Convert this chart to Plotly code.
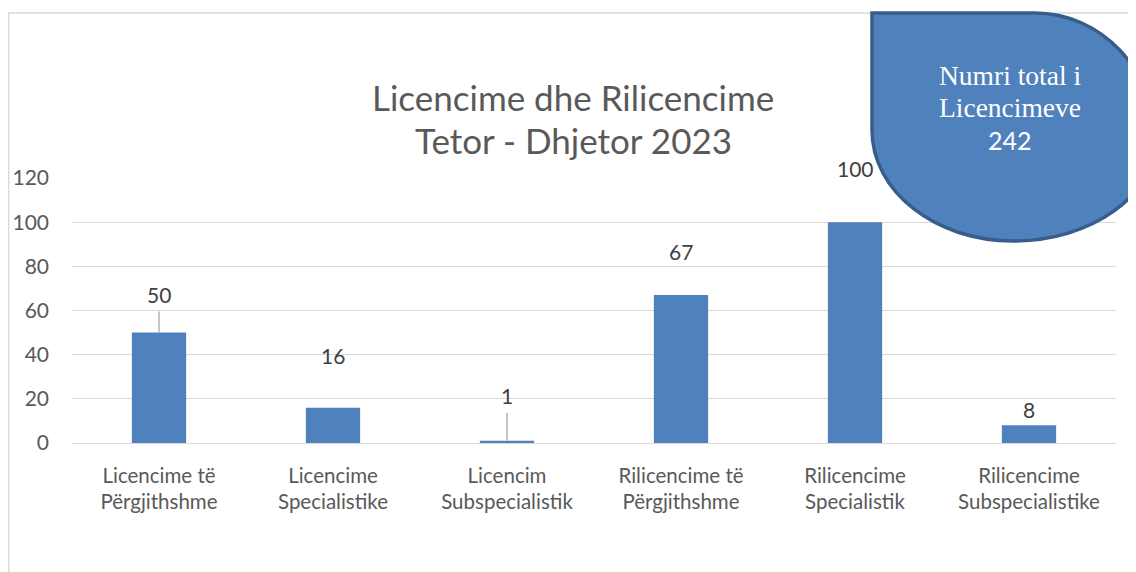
import plotly.graph_objects as go

# ---- data ----
categories = ["Licencime të<br>Përgjithshme", "Licencime<br>Specialistike", "Licencim<br>Subspecialistik",
              "Rilicencime të<br>Përgjithshme", "Rilicencime<br>Specialistik", "Rilicencime<br>Subspecialistike"]
values = [50, 16, 1, 67, 100, 8]
y_ticks = [0, 20, 40, 60, 80, 100, 120]
title_lines = ["Licencime dhe Rilicencime", "Tetor - Dhjetor 2023"]
total_lines = ["Numri total i", "Licencimeve"]
total_value = sum(values)

# ---- styling (label offsets in pixels, leader line lengths in pixels) ----
label_shift_px = [38, 52, 45, 44, 54, 16]
leader_px = [21, 0, 28, 0, 0, 0]

# page offset from default body margin (8px each side)
OX, OY = 8, 8
PW, PH = 1136, 572          # page size
W, H = PW - OX, PH - OY     # figure size
L, R, T, B = 72, 1116, 178, 443   # plot area in page pixels
BAR = "#4F81BD"
TXT = "#595959"
GRID = "#D9D9D9"
SANS = "Lato"


def px(x):
    return (x - L) / (R - L)


def py(y):
    return (B - y) / (B - T)


fig = go.Figure()
fig.add_trace(go.Bar(x=categories, y=values, marker=dict(color=BAR, line=dict(width=0)),
                     hoverinfo="skip"))

annotations = []
shapes = []

# chart border
shapes.append(dict(type="rect", xref="paper", yref="paper", x0=px(8.7), x1=px(1160), y0=py(13), y1=py(600),
                   line=dict(color=GRID, width=1.3), fillcolor="rgba(0,0,0,0)", layer="above"))

# data labels + leader lines
for c, v, s, ld in zip(categories, values, label_shift_px, leader_px):
    annotations.append(dict(x=c, y=v, xref="x", yref="y", text=str(v), showarrow=False, yshift=s,
                            font=dict(family=SANS, size=21, color="#404040")))
    if ld:
        shapes.append(dict(type="line", xref="x", yref="y", x0=c, x1=c, ysizemode="pixel", yanchor=v,
                           y0=0, y1=ld, line=dict(color="#A6A6A6", width=1.3)))

# title
for t, yc in zip(title_lines, [97, 140]):
    annotations.append(dict(x=px(573), y=py(yc), xref="paper", yref="paper", text=t, showarrow=False,
                            xanchor="center", yanchor="middle",
                            font=dict(family=SANS, size=35, color=TXT)))

# teardrop callout
k = 0.5523


def P(x, y):
    return f"{px(x):.5f},{py(y):.5f}"


path = "M " + P(872, 13) + " L " + P(1035, 13)
path += " C " + P(1035 + k * 120, 13) + " " + P(1155, 140 - k * 127) + " " + P(1155, 140)
path += " C " + P(1155, 140 + k * 101) + " " + P(1013 + k * 142, 241) + " " + P(1013, 241)
path += " C " + P(1013 - k * 141, 241) + " " + P(872, 130 + k * 111) + " " + P(872, 130)
path += " Z"
shapes.append(dict(type="path", xref="paper", yref="paper", path=path, fillcolor=BAR,
                   line=dict(color="#385D8A", width=3.5), layer="above"))

for t, yc in zip(total_lines, [75, 107]):
    annotations.append(dict(x=px(1010), y=py(yc), xref="paper", yref="paper", text=t, showarrow=False,
                            xanchor="center", yanchor="middle",
                            font=dict(family="Liberation Serif", size=27.5, color="white")))
annotations.append(dict(x=px(1010), y=py(140), xref="paper", yref="paper", text=str(total_value),
                        showarrow=False, xanchor="center", yanchor="middle",
                        font=dict(family=SANS, size=25, color="white")))

fig.update_layout(
    width=W, height=H,
    margin=dict(l=L - OX, r=W - (R - OX), t=T - OY, b=H - (B - OY), pad=0, autoexpand=False),
    paper_bgcolor="white", plot_bgcolor="white",
    bargap=0.688, showlegend=False,
    annotations=annotations, shapes=shapes,
    xaxis=dict(showline=True, linecolor=GRID, linewidth=1.3, showgrid=False, ticks="", automargin=False,
               tickfont=dict(family=SANS, size=20.5, color=TXT), ticklabelstandoff=14, fixedrange=True),
    yaxis=dict(range=[0, 120], tickvals=y_ticks, showgrid=True, gridcolor=GRID, gridwidth=1.3,
               zeroline=False, showline=False, ticks="", automargin=False,
               tickfont=dict(family=SANS, size=21, color=TXT), ticklabelstandoff=22, fixedrange=True),
)

fig.write_html("out.html",
               post_script="document.documentElement.style.overflow='hidden';"
                           "document.body.style.overflow='hidden';")
